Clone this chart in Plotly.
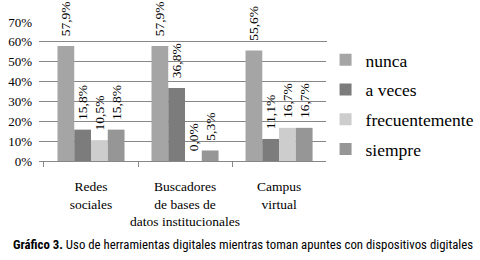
import plotly.graph_objects as go

categories = ["Redes<br>sociales", "Buscadores<br>de bases de<br>datos institucionales", "Campus<br>virtual"]
series_names = ["nunca", "a veces", "frecuentemente", "siempre"]
nunca = [57.9, 57.9, 55.6]
a_veces = [15.8, 36.8, 11.1]
frecuentemente = [10.5, 0.0, 16.7]
siempre = [15.8, 5.3, 16.7]
colors = ["#a5a5a5", "#7c7c7c", "#cdcdcd", "#969696"]
y_ticks = [0, 10, 20, 30, 40, 50, 60, 70]

serif = "Liberation Serif, Times New Roman, serif"

fig = go.Figure()
for name, vals, col in zip(series_names, [nunca, a_veces, frecuentemente, siempre], colors):
    fig.add_trace(go.Bar(
        x=categories, y=vals, name=name, legendgroup=name,
        marker=dict(color=col, line=dict(width=0)),
        text=["\u00a0\u00a0" + (f"{v:.1f}%").replace(".", ",") for v in vals],
        textposition="outside", textangle=-90,
        textfont=dict(family=serif, size=13.5, color="#000"),
        cliponaxis=False, constraintext="none",
    ))

fig.update_layout(
    width=480, height=260,
    margin=dict(l=39, r=153, t=22, b=99, autoexpand=False),
    paper_bgcolor="white", plot_bgcolor="white",
    barmode="group", bargap=0.287, bargroupgap=0,
    showlegend=True,
    legend=dict(x=0.995, y=0.857, xanchor="left", yanchor="top",
                font=dict(family=serif, size=17.5, color="#000"),
                tracegroupgap=4, itemwidth=30),
    uniformtext=dict(mode=False),
)
fig.update_yaxes(range=[0, 70], tickvals=y_ticks, ticktext=[f"{t}%" for t in y_ticks],
                 showgrid=True, gridcolor="#878787", gridwidth=1,
                 tickfont=dict(family=serif, size=13, color="#000"),
                 zeroline=False, showline=False, ticks="", ticklabelstandoff=6,
                 automargin=False)
fig.update_xaxes(range=[-0.553, 2.51], showline=True, linecolor="#878787", linewidth=1,
                 ticks="outside", tickson="boundaries", ticklen=5, tickcolor="#878787",
                 tickfont=dict(family=serif, size=13.5, color="#000"),
                 ticklabelstandoff=13, tickangle=0, automargin=False)

fig.add_annotation(
    xref="paper", yref="paper", x=0.708, y=-0.604,
    xanchor="center", yanchor="middle",
    text="<b>Gráfico 3.</b> Uso de herramientas digitales mientras toman apuntes con dispositivos digitales",
    showarrow=False,
    font=dict(family="Liberation Sans Narrow, Arial Narrow, Roboto Condensed, sans-serif", size=12.8, color="#000"),
)

fig.write_html("out.html", config={"displayModeBar": False},
               post_script="document.body.style.margin='0';")
